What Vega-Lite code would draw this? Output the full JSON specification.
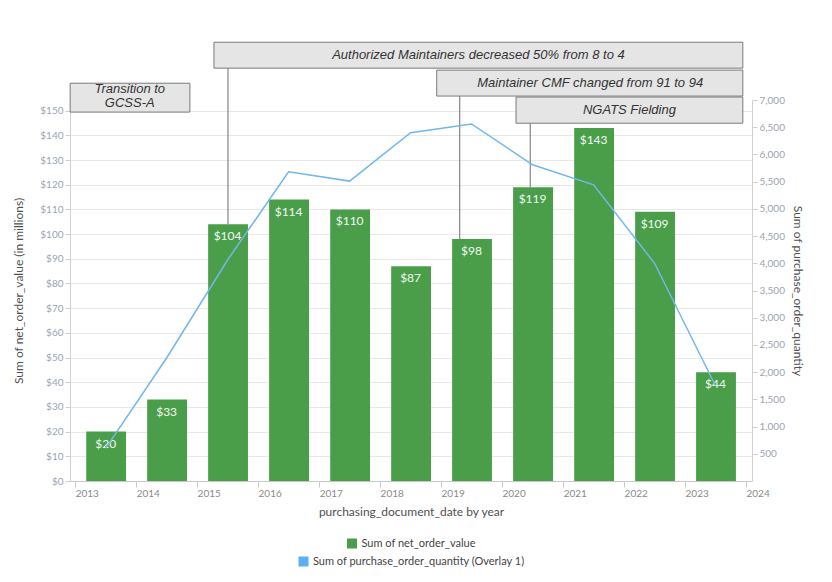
{
  "$schema": "https://vega.github.io/schema/vega-lite/v6.json",
  "width": 682,
  "height": 381,
  "autosize": "none",
  "padding": {"left": 70, "top": 100, "right": 80, "bottom": 101},
  "background": "white",
  "config": {
    "view": {"stroke": null},
    "font": "Lato",
    "legend": {"layout": {"bottom": {"anchor": "middle", "direction": "vertical", "center": true, "margin": 7}}},
    "axisY": {
      "labelColor": "#9aa4b4", "labelFontSize": 10, "tickColor": "#d0d0d0", "tickSize": 5, "domainColor": "#d0d0d0",
      "gridColor": "#e8e8e8", "titleColor": "#505050", "titleFontSize": 12, "titleFontWeight": "normal"
    }
  },
  "datasets": {
    "yearly": [
      {"date": "2013-01-01", "net_order_value": 20, "label": "$20", "purchase_order_quantity": 600},
      {"date": "2014-01-01", "net_order_value": 33, "label": "$33", "purchase_order_quantity": 2260},
      {"date": "2015-01-01", "net_order_value": 104, "label": "$104", "purchase_order_quantity": 4060},
      {"date": "2016-01-01", "net_order_value": 114, "label": "$114", "purchase_order_quantity": 5680},
      {"date": "2017-01-01", "net_order_value": 110, "label": "$110", "purchase_order_quantity": 5510},
      {"date": "2018-01-01", "net_order_value": 87, "label": "$87", "purchase_order_quantity": 6400},
      {"date": "2019-01-01", "net_order_value": 98, "label": "$98", "purchase_order_quantity": 6560},
      {"date": "2020-01-01", "net_order_value": 119, "label": "$119", "purchase_order_quantity": 5810},
      {"date": "2021-01-01", "net_order_value": 143, "label": "$143", "purchase_order_quantity": 5440},
      {"date": "2022-01-01", "net_order_value": 109, "label": "$109", "purchase_order_quantity": 4000},
      {"date": "2023-01-01", "net_order_value": 44, "label": "$44", "purchase_order_quantity": 1750}
    ],
    "notes": [
      {"x0": "2015-04-12", "x1": "2023-12-13", "y0": 167.2, "y1": 177.7, "tx": "2019-08-13", "ty": 172.5, "note": "Authorized Maintainers decreased 50% from 8 to 4"},
      {"x0": "2018-12-06", "x1": "2023-12-13", "y0": 155.9, "y1": 166.4, "tx": "2021-06-12", "ty": 161.1, "note": "Maintainer CMF changed from 91 to 94"},
      {"x0": "2020-03-25", "x1": "2023-12-13", "y0": 144.9, "y1": 155.5, "tx": "2022-02-02", "ty": 150.2, "note": "NGATS Fielding"},
      {"x0": "2012-12-02", "x1": "2014-11-19", "y0": 149.4, "y1": 161.1, "tx": "2013-11-24", "ty": 158.6, "note": "Transition to\nGCSS-A"}
    ],
    "connectors": [
      {"rx": "2015-07-05", "ry0": 104, "ry1": 167.2},
      {"rx": "2019-04-23", "ry0": 98, "ry1": 155.9},
      {"rx": "2020-06-18", "ry0": 119, "ry1": 144.9}
    ]
  },
  "layer": [
    {
      "layer": [
        {
          "data": {"name": "yearly"},
          "mark": {"type": "bar", "width": {"band": 0.67}},
          "encoding": {
            "x": {
              "field": "date", "timeUnit": "utcyear", "type": "temporal",
              "title": "purchasing_document_date by year",
              "scale": {"type": "utc", "domain": [{"year": 2012, "month": 12, "date": 1, "utc": true}, {"year": 2024, "month": 2, "date": 6, "utc": true}]},
              "axis": {
                "format": "%Y", "labelAlign": "left", "labelPadding": 1, "labelColor": "#8a8a8a", "labelFontSize": 10,
                "tickColor": "#c8c8c8", "tickSize": 6, "domainColor": "#c8c8c8", "grid": false,
                "titleColor": "#505050", "titleFontSize": 12, "titleFontWeight": "normal", "titlePadding": 8,
                "tickCount": {"interval": "year", "step": 1}, "labelFlush": false, "labelOverlap": false
              }
            },
            "y": {
              "field": "net_order_value", "type": "quantitative",
              "title": "Sum of net_order_value (in millions)",
              "scale": {"domain": [0, 154.3], "nice": false},
              "axis": {
                "values": [0, 10, 20, 30, 40, 50, 60, 70, 80, 90, 100, 110, 120, 130, 140, 150],
                "labelExpr": "'$' + datum.value", "labelOverlap": false, "titlePadding": 14
              }
            },
            "fill": {
              "datum": "Sum of net_order_value", "type": "nominal",
              "scale": {"range": ["#4a9e4a"]},
              "legend": {"orient": "bottom", "title": null, "symbolType": "square", "symbolSize": 100, "symbolStrokeWidth": 0, "symbolFillColor": "#2e8b2e", "labelFontSize": 11, "labelColor": "#444444", "labelLimit": 400, "offset": 21}
            }
          }
        },
        {
          "data": {"name": "connectors"},
          "mark": {"type": "rule", "color": "#6e6e6e", "strokeWidth": 1},
          "encoding": {
            "x": {"field": "rx", "type": "temporal"},
            "y": {"field": "ry0", "type": "quantitative", "scale": {"domain": [0, 154.3], "nice": false},
              "axis": {"values": [0, 10, 20, 30, 40, 50, 60, 70, 80, 90, 100, 110, 120, 130, 140, 150], "labelExpr": "'$' + datum.value", "labelOverlap": false, "titlePadding": 14}},
            "y2": {"field": "ry1"}
          }
        },
        {
          "data": {"name": "notes"},
          "mark": {"type": "rect", "fill": "#e5e5e5", "stroke": "#7a7a7a", "strokeWidth": 1},
          "encoding": {
            "x": {"field": "x0", "type": "temporal"},
            "x2": {"field": "x1"},
            "y": {"field": "y0", "type": "quantitative", "scale": {"domain": [0, 154.3], "nice": false},
              "axis": {"values": [0, 10, 20, 30, 40, 50, 60, 70, 80, 90, 100, 110, 120, 130, 140, 150], "labelExpr": "'$' + datum.value", "labelOverlap": false, "titlePadding": 14}},
            "y2": {"field": "y1"}
          }
        },
        {
          "data": {"name": "notes"},
          "mark": {"type": "text", "font": "Liberation Sans", "fontStyle": "italic", "fontSize": 13, "color": "#333333", "lineBreak": "\n", "lineHeight": 14},
          "encoding": {
            "x": {"field": "tx", "type": "temporal"},
            "y": {"field": "ty", "type": "quantitative", "scale": {"domain": [0, 154.3], "nice": false},
              "axis": {"values": [0, 10, 20, 30, 40, 50, 60, 70, 80, 90, 100, 110, 120, 130, 140, 150], "labelExpr": "'$' + datum.value", "labelOverlap": false, "titlePadding": 14}},
            "text": {"field": "note"}
          }
        },
        {
          "data": {"name": "yearly"},
          "mark": {"type": "text", "baseline": "top", "dy": 7, "fontSize": 12, "color": "#f2fbf2"},
          "encoding": {
            "x": {"field": "date", "timeUnit": "utcyear", "type": "temporal", "bandPosition": 0.5},
            "y": {"field": "net_order_value", "type": "quantitative", "scale": {"domain": [0, 154.3], "nice": false},
              "axis": {"values": [0, 10, 20, 30, 40, 50, 60, 70, 80, 90, 100, 110, 120, 130, 140, 150], "labelExpr": "'$' + datum.value", "labelOverlap": false, "titlePadding": 14}},
            "text": {"field": "label"}
          }
        }
      ]
    },
    {
      "data": {"name": "yearly"},
      "mark": {"type": "line", "strokeWidth": 1.5},
      "encoding": {
        "x": {"field": "date", "timeUnit": "utcyear", "type": "temporal", "bandPosition": 0.5},
        "y": {
          "field": "purchase_order_quantity", "type": "quantitative",
          "title": "Sum of purchase_order_quantity",
          "scale": {"domain": [0, 7000], "nice": false},
          "axis": {
            "orient": "right", "values": [500, 1000, 1500, 2000, 2500, 3000, 3500, 4000, 4500, 5000, 5500, 6000, 6500, 7000],
            "labelExpr": "format(datum.value, ',.0f')", "grid": false, "titlePadding": 6
          }
        },
        "stroke": {
          "datum": "Sum of purchase_order_quantity (Overlay 1)", "type": "nominal",
          "scale": {"range": ["#70b8ea"]},
          "legend": {"orient": "bottom", "title": null, "symbolType": "square", "symbolSize": 100, "symbolStrokeWidth": 0, "symbolFillColor": "#5ab0f0", "labelFontSize": 11, "labelColor": "#444444", "labelLimit": 400, "offset": 21}
        }
      }
    }
  ],
  "resolve": {"scale": {"y": "independent"}}
}
